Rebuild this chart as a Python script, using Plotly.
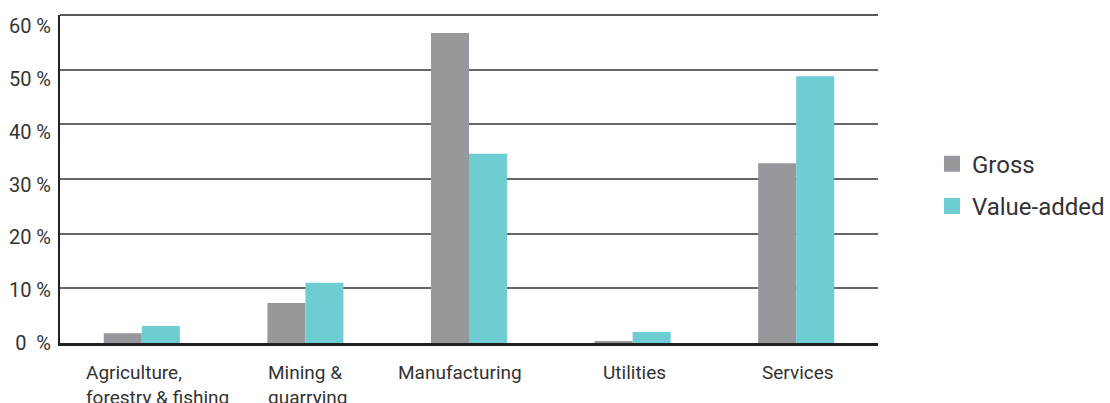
import plotly.graph_objects as go

categories = ["Agriculture", "Mining", "Manufacturing", "Utilities", "Services"]
category_labels = ["Agriculture,<br>forestry & fishing", "Mining &<br>quarrying", "Manufacturing", "Utilities", "Services"]
gross = [1.8, 7.3, 56.7, 0.3, 32.9]
value_added = [3.1, 11.0, 34.6, 2.0, 48.8]
tick_vals = [0, 10, 20, 30, 40, 50, 60]
tick_text = ["0  %", "10 %", "20 %", "30 %", "40 %", "50 %", "60 %"]

# style: horizontal nudges of the category labels (pixels)
label_xshift = [16, 2, -9, 2, 2]

GREY = "#97989c"
TEAL = "#6dcdd2"

fig = go.Figure()
fig.add_trace(go.Bar(x=categories, y=gross, name="Gross", marker_color=GREY,
                     marker_line_width=0, showlegend=False))
fig.add_trace(go.Bar(x=categories, y=value_added, name="Value-added", marker_color=TEAL,
                     marker_line_width=0, showlegend=False))
# legend entries with larger square swatches
fig.add_trace(go.Scatter(x=[None], y=[None], mode="markers", name="Gross",
                         marker=dict(symbol="square", size=16, color=GREY), legendgroup="a"))
fig.add_trace(go.Scatter(x=[None], y=[None], mode="markers", name="Value-added",
                         marker=dict(symbol="square", size=16, color=TEAL), legendgroup="b"))
# invisible trace carrying the label axis
fig.add_trace(go.Scatter(x=[None], y=[None], yaxis="y2", showlegend=False, hoverinfo="skip"))

for cat, lab, dx in zip(categories, category_labels, label_xshift):
    fig.add_annotation(x=cat, y=0, xref="x", yref="y", text=lab, showarrow=False,
                       xanchor="center", yanchor="top", align="left", yshift=-16, xshift=dx,
                       font=dict(size=19, color="#333333", family="Roboto"))

fig.update_layout(
    width=1110, height=403,
    margin=dict(l=60, r=232, t=15, b=60, autoexpand=False),
    paper_bgcolor="white", plot_bgcolor="white",
    barmode="group", bargap=0.535, bargroupgap=0,
    font=dict(family="Roboto", color="#333333", size=16),
    legend=dict(x=1.066, y=0.481, xanchor="left", yanchor="middle",
                font=dict(size=24, color="#333333"),
                traceorder="grouped", tracegroupgap=8),
    xaxis=dict(showgrid=False, showline=True, linecolor="#222222", linewidth=2.5,
               ticks="", showticklabels=False, fixedrange=True),
    yaxis=dict(range=[0, 60], tickvals=tick_vals, showticklabels=False,
               showgrid=True, gridcolor="#666666", gridwidth=1.5,
               showline=True, linecolor="#222222", linewidth=2,
               ticks="", zeroline=False),
    yaxis2=dict(overlaying="y", side="left", range=[0, 62.1],
                tickvals=tick_vals, ticktext=tick_text, showgrid=False,
                showline=False, zeroline=False, ticks="", ticklabelstandoff=8,
                tickfont=dict(size=20, color="#333333")),
)
fig.add_shape(type="line", xref="paper", yref="paper", x0=0, x1=1, y0=1, y1=1,
              line=dict(color="#222222", width=1.5))
fig.write_html("out.html")
